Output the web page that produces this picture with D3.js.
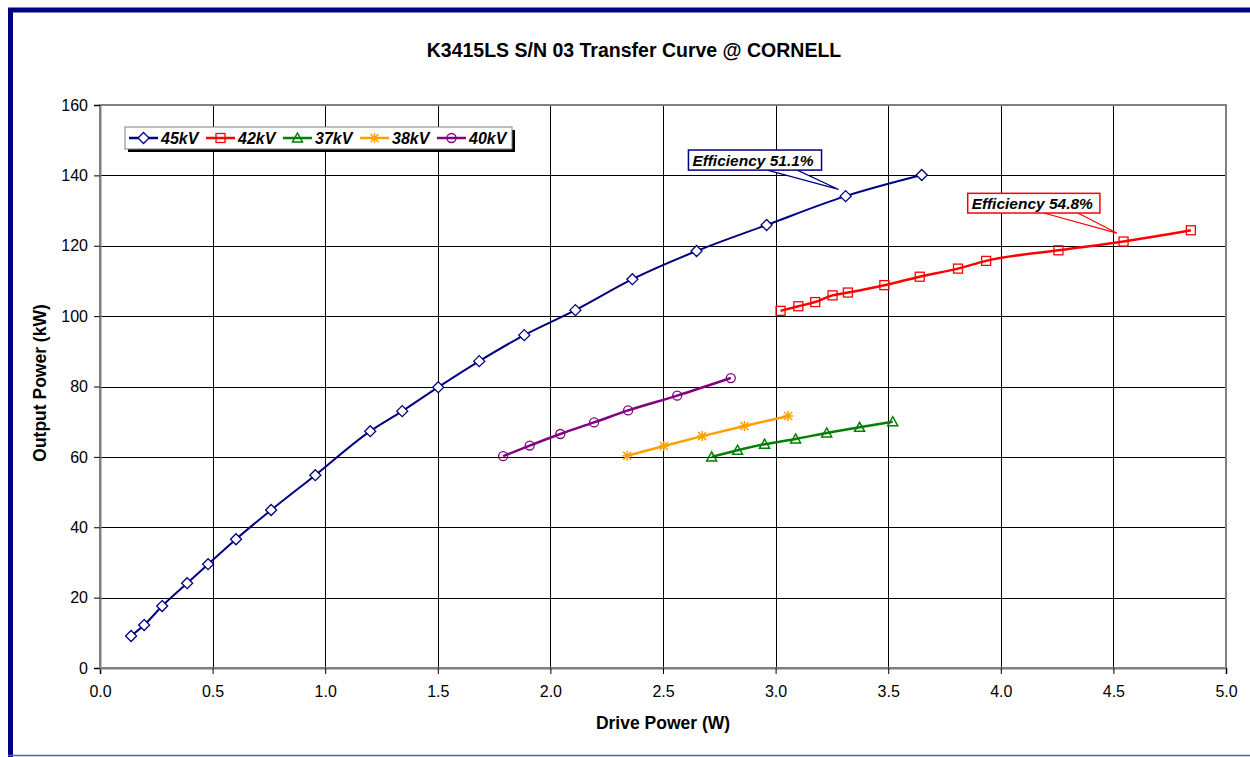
<!DOCTYPE html>
<html>
<head>
<meta charset="utf-8">
<script src="https://cdn.jsdelivr.net/npm/d3@7"></script>
<style>
  body { margin: 0; background: #fff; }
  svg { font-family: "Liberation Sans", Arial, sans-serif; }
</style>
</head>
<body>
<div id="chart"></div>
<script>
// data
var seriesNames = ["45kV", "42kV", "37kV", "38kV", "40kV"];
var seriesColors = ["#000080", "#ff0000", "#008000", "#ffa000", "#800080"];
var seriesMarkers = ["diamond", "square", "triangle", "asterisk", "circle"];

var drive45 = [0.138, 0.196, 0.276, 0.387, 0.48, 0.604, 0.76, 0.956, 1.2, 1.342, 1.502, 1.684, 1.884, 2.111, 2.364, 2.649, 2.96, 3.311, 3.649];
var power45 = [9.1, 12.2, 17.6, 24.1, 29.5, 36.6, 44.9, 54.8, 67.3, 73.0, 79.8, 87.2, 94.6, 101.7, 110.5, 118.5, 125.9, 134.1, 140.1];

var drive42 = [3.022, 3.101, 3.176, 3.253, 3.321, 3.483, 3.64, 3.81, 3.935, 4.256, 4.545, 4.844];
var power42 = [101.5, 102.8, 104.0, 105.9, 106.7, 108.8, 111.2, 113.5, 115.7, 118.7, 121.2, 124.4];

var drive37 = [2.716, 2.831, 2.951, 3.089, 3.227, 3.373, 3.52];
var power37 = [60.0, 61.9, 63.6, 65.1, 66.8, 68.4, 70.0];

var drive38 = [2.341, 2.504, 2.674, 2.862, 3.056];
var power38 = [60.3, 63.1, 65.9, 68.8, 71.6];

var drive40 = [1.79, 1.908, 2.044, 2.194, 2.345, 2.563, 2.801];
var power40 = [60.2, 63.2, 66.5, 69.8, 73.2, 77.4, 82.4];

var xTicks = [0, 0.5, 1, 1.5, 2, 2.5, 3, 3.5, 4, 4.5, 5];
var yTicks = [0, 20, 40, 60, 80, 100, 120, 140, 160];

var callouts = [
  { text: "Efficiency 51.1%", color: "#000080", box: [2.613, 147.2, 3.204, 141.5], base: [2.963, 3.096], tip: [3.28, 136.0] },
  { text: "Efficiency 54.8%", color: "#ff0000", box: [3.853, 134.9, 4.44, 129.3], base: [4.191, 4.342], tip: [4.515, 123.6] }
];

var svgWidth = 1250;
var svgHeight = 757;
var plot = { left: 100, right: 1226, top: 105, bottom: 668 };

var svg = d3.select("#chart").append("svg")
  .attr("width", svgWidth)
  .attr("height", svgHeight);

// outer frame
svg.append("rect").attr("width", svgWidth).attr("height", svgHeight).attr("fill", "#fff");
svg.append("line").attr("x1", 8).attr("x2", svgWidth).attr("y1", 10).attr("y2", 10)
  .attr("stroke", "#000080").attr("stroke-width", 5);
svg.append("line").attr("x1", 10.5).attr("x2", 10.5).attr("y1", 8).attr("y2", 757)
  .attr("stroke", "#000080").attr("stroke-width", 5);
svg.append("line").attr("x1", 8).attr("x2", svgWidth).attr("y1", 755.5).attr("y2", 755.5)
  .attr("stroke", "#5a5ab4").attr("stroke-width", 1.5);

var x = d3.scaleLinear().domain([0, 5]).range([plot.left, plot.right]);
var y = d3.scaleLinear().domain([0, 160]).range([plot.bottom, plot.top]);

// gridlines
var grid = svg.append("g").attr("shape-rendering", "crispEdges");
grid.selectAll(".vg").data(xTicks).enter().append("line")
  .attr("x1", d => Math.round(x(d)) + 0.5).attr("x2", d => Math.round(x(d)) + 0.5)
  .attr("y1", plot.top).attr("y2", plot.bottom)
  .attr("stroke", "#000").attr("stroke-width", 1);
grid.selectAll(".hg").data(yTicks).enter().append("line")
  .attr("x1", plot.left).attr("x2", plot.right)
  .attr("y1", d => Math.round(y(d)) + 0.5).attr("y2", d => Math.round(y(d)) + 0.5)
  .attr("stroke", "#000").attr("stroke-width", 1);

// plot border (top / right grey)
svg.append("rect")
  .attr("x", plot.left).attr("y", plot.top)
  .attr("width", plot.right - plot.left).attr("height", plot.bottom - plot.top)
  .attr("fill", "none").attr("stroke", "#808080").attr("stroke-width", 2);

// axes
var xAxis = svg.append("g")
  .attr("transform", `translate(0, ${plot.bottom})`)
  .call(d3.axisBottom(x).tickValues(xTicks).tickFormat(d3.format(".1f")).tickSize(6).tickPadding(12));
var yAxis = svg.append("g")
  .attr("transform", `translate(${plot.left}, 0)`)
  .call(d3.axisLeft(y).tickValues(yTicks).tickFormat(d3.format("d")).tickSize(6).tickPadding(6));

[xAxis, yAxis].forEach(function(ax) {
  ax.select(".domain").attr("stroke", "#808080").attr("stroke-width", 2);
  ax.selectAll(".tick line").attr("stroke", "#000");
  ax.selectAll("text").attr("font-size", "16px").attr("fill", "#000")
    .attr("font-family", "Liberation Sans, Arial, sans-serif");
});

// titles
svg.append("text").attr("x", 634).attr("y", 57).attr("text-anchor", "middle")
  .attr("font-size", "19.5px").attr("font-weight", "bold")
  .text("K3415LS S/N 03 Transfer Curve @ CORNELL");
svg.append("text").attr("x", 663).attr("y", 729).attr("text-anchor", "middle")
  .attr("font-size", "17.5px").attr("font-weight", "bold")
  .text("Drive Power (W)");
svg.append("text").attr("transform", "translate(46, 383) rotate(-90)").attr("text-anchor", "middle")
  .attr("font-size", "17.5px").attr("font-weight", "bold")
  .text("Output Power (kW)");

// marker drawing
function drawMarker(g, type, color) {
  if (type === "diamond") {
    g.append("path").attr("d", "M0,-5.5L5.5,0L0,5.5L-5.5,0Z").attr("fill", "#fff").attr("stroke", color).attr("stroke-width", 1.3);
  } else if (type === "square") {
    g.append("rect").attr("x", -4.5).attr("y", -4.5).attr("width", 9).attr("height", 9)
      .attr("fill", "none").attr("stroke", color).attr("stroke-width", 1.3);
  } else if (type === "triangle") {
    g.append("path").attr("d", "M0,-5L5,4L-5,4Z").attr("fill", "none").attr("stroke", color).attr("stroke-width", 1.5);
  } else if (type === "circle") {
    g.append("circle").attr("r", 4.5).attr("fill", "none").attr("stroke", color).attr("stroke-width", 1.3);
  } else if (type === "asterisk") {
    g.append("path").attr("d", "M-5,0L5,0M0,-5L0,5M-4,-4L4,4M-4,4L4,-4")
      .attr("stroke", color).attr("stroke-width", 1.5);
  }
}

var seriesData = [
  d3.zip(drive45, power45),
  d3.zip(drive42, power42),
  d3.zip(drive37, power37),
  d3.zip(drive38, power38),
  d3.zip(drive40, power40)
];

var line = d3.line().x(d => x(d[0])).y(d => y(d[1])).curve(d3.curveMonotoneX);

seriesData.forEach(function(data, i) {
  svg.append("path")
    .datum(data)
    .attr("d", line)
    .attr("fill", "none")
    .attr("stroke", seriesColors[i])
    .attr("stroke-width", i === 0 ? 2 : 2.5);
  svg.selectAll(".m" + i).data(data).enter().append("g")
    .attr("transform", d => `translate(${x(d[0])}, ${y(d[1])})`)
    .each(function() { drawMarker(d3.select(this), seriesMarkers[i], seriesColors[i]); });
});

// callouts
callouts.forEach(function(c) {
  var g = svg.append("g");
  var bx1 = x(c.box[0]), by1 = y(c.box[1]), bx2 = x(c.box[2]), by2 = y(c.box[3]);
  g.append("path")
    .attr("d", `M${x(c.base[0])},${by2}L${x(c.tip[0])},${y(c.tip[1])}L${x(c.base[1])},${by2}`)
    .attr("fill", "#fff").attr("stroke", c.color).attr("stroke-width", 1.2);
  g.append("rect").attr("x", bx1).attr("y", by1).attr("width", bx2 - bx1).attr("height", by2 - by1)
    .attr("fill", "#fff").attr("stroke", c.color).attr("stroke-width", 1.5);
  g.append("text").attr("x", bx1 + 4).attr("y", by2 - 4.5)
    .attr("font-size", "15.5px").attr("font-weight", "bold").attr("font-style", "italic")
    .text(c.text);
});

// legend
var legend = svg.append("g").attr("transform", "translate(125, 127)");
legend.append("rect").attr("x", 3).attr("y", 3).attr("width", 387).attr("height", 22).attr("fill", "#000");
legend.append("rect").attr("x", 0).attr("y", 0).attr("width", 387).attr("height", 22)
  .attr("fill", "#fff").attr("stroke", "#808080").attr("stroke-width", 1);
seriesNames.forEach(function(name, i) {
  var item = legend.append("g").attr("transform", `translate(${4 + i * 77}, 11)`);
  item.append("line").attr("x1", 0).attr("x2", 29).attr("y1", 0).attr("y2", 0)
    .attr("stroke", seriesColors[i]).attr("stroke-width", 2.5);
  drawMarker(item.append("g").attr("transform", "translate(14.5, 0)"), seriesMarkers[i], seriesColors[i]);
  item.append("text").attr("x", 32).attr("y", 6)
    .attr("font-size", "16px").attr("font-weight", "bold").attr("font-style", "italic")
    .text(name);
});
</script>
</body>
</html>
